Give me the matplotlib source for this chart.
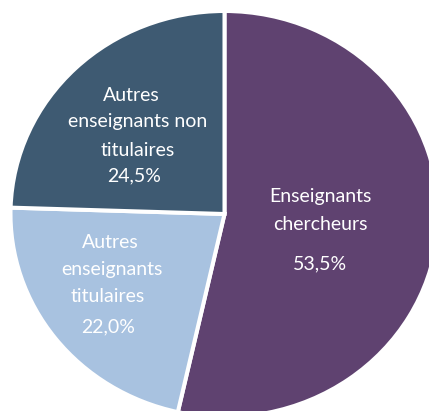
import matplotlib
matplotlib.use("Agg")
import matplotlib.pyplot as plt

# données du graphique
categories = ["Enseignants chercheurs", "Autres enseignants titulaires",
              "Autres enseignants non titulaires"]
shares = [53.5, 22.0, 24.5]
pct_labels = ["53,5%", "22,0%", "24,5%"]
label_lines = [["Enseignants", "chercheurs"],
               ["Autres", "enseignants", "titulaires"],
               ["Autres", "enseignants non", "titulaires"]]
colors = ["#5f4270", "#a8c2e0", "#3e5a72"]

W, H, dpi = 429, 411, 100
# centre et rayons du camembert en pixels (un peu plus large que haut)
cx, cy = 224.5, 214
rx, ry = 214, 203

fig = plt.figure(figsize=(W / dpi, H / dpi), dpi=dpi)
ax = fig.add_axes([0, 0, 1, 1])
ax.pie(shares, colors=colors, startangle=90, counterclock=False,
       wedgeprops=dict(edgecolor="white", linewidth=2.9))
ax.set_aspect("auto")
ax.set_xlim(-cx / rx, (W - cx) / rx)
ax.set_ylim(-(H - cy) / ry, cy / ry)


def px(x, y):
    # position en pixels -> coordonnées des données
    return (x - cx) / rx, (cy - y) / ry


# positions des lignes de texte (pixels)
line_pos = [[(320, 196), (320, 224)],
            [(110, 242), (112, 269), (108, 296)],
            [(131, 95), (138, 122), (138, 150)]]
pct_pos = [(320, 264), (108, 327), (134, 176)]

font = dict(family="Lato", size=14, color="white", ha="center", va="center")
for lines, pos in zip(label_lines, line_pos):
    for txt, (x, y) in zip(lines, pos):
        ax.text(*px(x, y), txt, **font)
for txt, (x, y) in zip(pct_labels, pct_pos):
    ax.text(*px(x, y), txt, **font)

fig.savefig("out.png", dpi=dpi)
